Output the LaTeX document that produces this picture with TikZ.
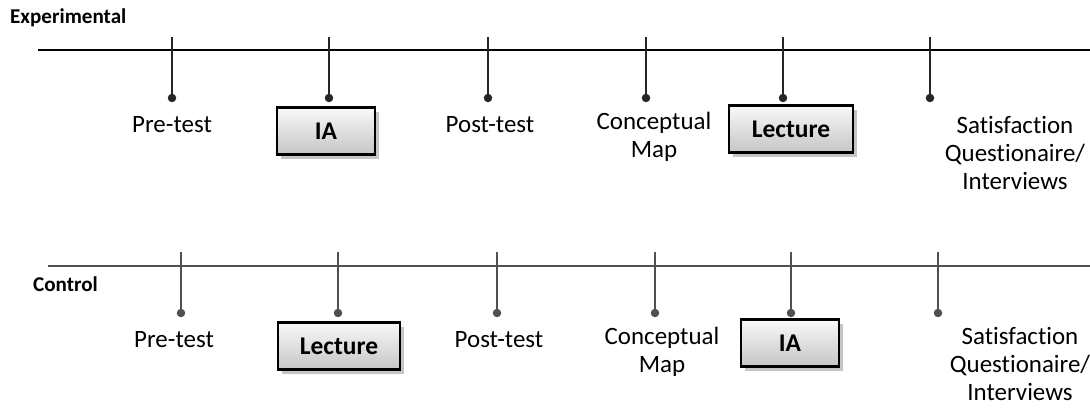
\documentclass[tikz,border=0pt]{standalone}
\usepackage{fontspec}
\setmainfont{Carlito}[Ligatures=NoCommon]
\usetikzlibrary{positioning, shadows}
\definecolor{ctrlgray}{HTML}{505050}

\begin{document}
\begin{tikzpicture}[x=0.02cm, y=-0.02cm,
    tickdot/.style={circle, fill=#1, inner sep=0pt, minimum size=0.17cm},
    stepbox/.style={draw=black, line width=1.4pt, top color=gray!5, bottom color=gray!45,
        drop shadow={shadow xshift=2pt, shadow yshift=-2.5pt, fill=black!45},
        minimum height=0.94cm, font=\fontsize{14.5}{16}\selectfont\bfseries},
    lbl/.style={align=center, font=\fontsize{14.2}{15.8}\selectfont},
    grouplbl/.style={font=\fontsize{12}{14}\selectfont\bfseries, anchor=west}]

    \useasboundingbox (0,0) rectangle (1090,408);

    % Experimental group
    \node[grouplbl] (exp) at (4,18) {Experimental};
    \coordinate (expL) at (38,50);
    \coordinate (expR) at (1090,50);
    \draw[line width=1.7pt] (expL) -- (expR);

    % ticks on the upper line
    \coordinate (e1) at (172,37);  \node[tickdot=black!85] (e1d) at (172,98) {};
    \coordinate (e2) at (329,37);  \node[tickdot=black!85] (e2d) at (329,98) {};
    \coordinate (e3) at (488,37);  \node[tickdot=black!85] (e3d) at (488,98) {};
    \coordinate (e4) at (646,37);  \node[tickdot=black!85] (e4d) at (646,98) {};
    \coordinate (e5) at (783,37);  \node[tickdot=black!85] (e5d) at (783,98) {};
    \coordinate (e6) at (930,37);  \node[tickdot=black!85] (e6d) at (930,98) {};
    \draw[line width=0.8pt, black!85] (e1) -- (e1d.center);
    \draw[line width=0.8pt, black!85] (e2) -- (e2d.center);
    \draw[line width=0.8pt, black!85] (e3) -- (e3d.center);
    \draw[line width=0.8pt, black!85] (e4) -- (e4d.center);
    \draw[line width=0.8pt, black!85] (e5) -- (e5d.center);
    \draw[line width=0.8pt, black!85] (e6) -- (e6d.center);

    % steps of the experimental group
    \node[lbl] (ePre) at (172,125) {Pre-test};
    \node[stepbox, minimum width=1.96cm] (eIA) at (326,131) {IA};
    \node[lbl] (ePost) at (490,125) {Post-test};
    \node[lbl] (eMap) at (654,137) {Conceptual\\Map};
    \node[stepbox, minimum width=2.48cm] (eLec) at (791,129) {Lecture};
    \node[lbl] (eSat) at (1015,153) {Satisfaction\\Questionaire/\\Interviews};

    % Control group
    \coordinate (ctlL) at (48,266);
    \coordinate (ctlR) at (1090,266);
    \draw[line width=1.1pt, ctrlgray] (ctlL) -- (ctlR);
    \node[grouplbl] (ctl) at (27,284) {Control};

    % ticks on the lower line
    \coordinate (c1) at (181,252);  \node[tickdot=ctrlgray] (c1d) at (181,313) {};
    \coordinate (c2) at (338,252);  \node[tickdot=ctrlgray] (c2d) at (338,313) {};
    \coordinate (c3) at (497,252);  \node[tickdot=ctrlgray] (c3d) at (497,313) {};
    \coordinate (c4) at (655,252);  \node[tickdot=ctrlgray] (c4d) at (655,313) {};
    \coordinate (c5) at (791,252);  \node[tickdot=ctrlgray] (c5d) at (791,313) {};
    \coordinate (c6) at (938,252);  \node[tickdot=ctrlgray] (c6d) at (938,313) {};
    \draw[line width=0.8pt, ctrlgray] (c1) -- (c1d.center);
    \draw[line width=0.8pt, ctrlgray] (c2) -- (c2d.center);
    \draw[line width=0.8pt, ctrlgray] (c3) -- (c3d.center);
    \draw[line width=0.8pt, ctrlgray] (c4) -- (c4d.center);
    \draw[line width=0.8pt, ctrlgray] (c5) -- (c5d.center);
    \draw[line width=0.8pt, ctrlgray] (c6) -- (c6d.center);

    % steps of the control group
    \node[lbl] (cPre) at (174,340) {Pre-test};
    \node[stepbox, minimum width=2.44cm] (cLec) at (339,346) {Lecture};
    \node[lbl] (cPost) at (499,340) {Post-test};
    \node[lbl] (cMap) at (662,352) {Conceptual\\Map};
    \node[stepbox, minimum width=1.96cm] (cIA) at (790,343) {IA};
    \node[lbl] (cSat) at (1020,364) {Satisfaction\\Questionaire/\\Interviews};

\end{tikzpicture}
\end{document}
